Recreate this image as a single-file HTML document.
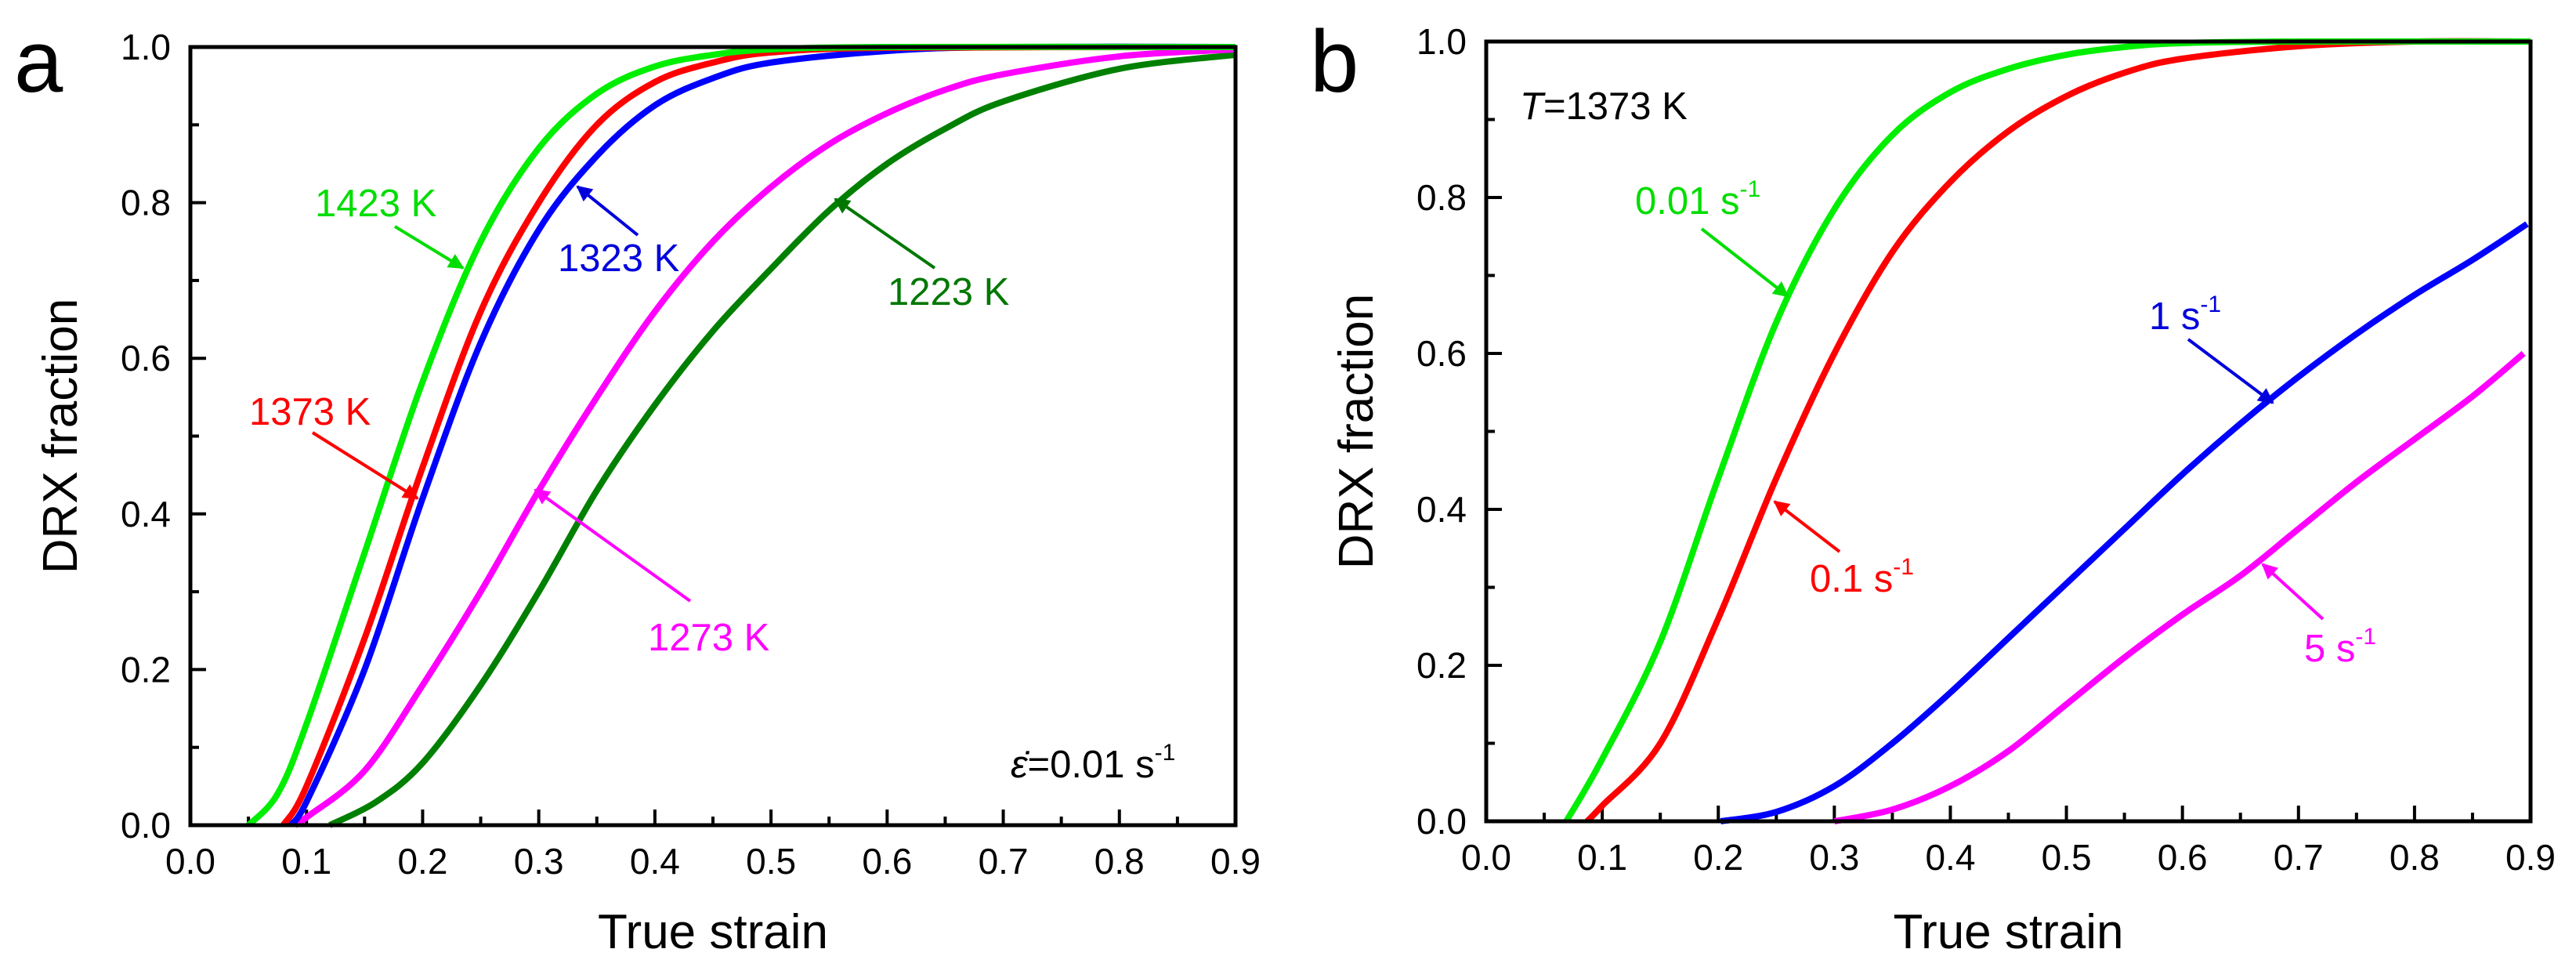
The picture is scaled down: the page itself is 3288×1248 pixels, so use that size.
<!DOCTYPE html>
<html><head><meta charset="utf-8"><style>
html,body{margin:0;padding:0;background:#fff}
svg{display:block;font-family:"Liberation Sans",Arial,sans-serif}
</style></head><body>
<svg id="fig" width="3288" height="1248" viewBox="0 0 3288 1248" xmlns="http://www.w3.org/2000/svg">
<defs>
<marker id="ah" viewBox="0 0 10 10" refX="9" refY="5" markerWidth="6" markerHeight="5" orient="auto" markerUnits="strokeWidth"><path d="M0,0 L10,5 L0,10 z" fill="context-stroke"/></marker>
</defs>
</svg>
<script>
// ---------- Panel a data (temperature series, strain rate 0.01 s^-1) ----------
const aX1423 = [0.05,0.075,0.1,0.15,0.2,0.25,0.3,0.35,0.4,0.45,0.5,0.6,0.9];
const aY1423 = [0,0.04,0.13,0.35,0.57,0.75,0.87,0.94,0.975,0.99,0.997,1,1];
const aX1373 = [0.08,0.1,0.15,0.2,0.25,0.3,0.35,0.4,0.45,0.5,0.6,0.9];
const aY1373 = [0,0.05,0.24,0.46,0.66,0.8,0.9,0.955,0.98,0.993,0.999,1];
const aX1323 = [0.085,0.1,0.15,0.2,0.25,0.3,0.35,0.4,0.45,0.5,0.6,0.7,0.9];
const aY1323 = [0,0.03,0.2,0.42,0.62,0.765,0.86,0.925,0.96,0.98,0.995,1,1];
const aX1273 = [0.09,0.1,0.15,0.2,0.25,0.3,0.35,0.4,0.45,0.5,0.55,0.6,0.65,0.7,0.8,0.9];
const aY1273 = [0,0.01,0.07,0.18,0.3,0.43,0.55,0.66,0.75,0.82,0.875,0.915,0.945,0.965,0.988,0.997];
const aX1223 = [0.12,0.16,0.2,0.25,0.3,0.35,0.4,0.45,0.5,0.55,0.6,0.65,0.7,0.8,0.9];
const aY1223 = [0,0.03,0.08,0.18,0.3,0.43,0.54,0.635,0.715,0.79,0.85,0.895,0.93,0.972,0.99];
// ---------- Panel b data (strain-rate series, T = 1373 K) ----------
const bX001 = [0.069,0.1,0.15,0.2,0.25,0.3,0.35,0.4,0.45,0.5,0.55,0.6,0.7,0.9];
const bY001 = [0,0.08,0.23,0.44,0.64,0.785,0.88,0.935,0.965,0.983,0.993,0.998,1,1];
const bX01 = [0.087,0.1,0.15,0.2,0.25,0.3,0.35,0.4,0.45,0.5,0.55,0.6,0.7,0.8,0.9];
const bY01 = [0,0.02,0.1,0.26,0.44,0.6,0.73,0.82,0.885,0.93,0.96,0.978,0.994,1,1];
const bX1 = [0.202,0.25,0.3,0.35,0.4,0.45,0.5,0.55,0.6,0.65,0.7,0.75,0.8,0.85,0.897];
const bY1 = [0,0.012,0.045,0.1,0.165,0.235,0.305,0.375,0.445,0.51,0.57,0.625,0.675,0.72,0.766];
const bX5 = [0.3,0.35,0.4,0.45,0.5,0.55,0.6,0.65,0.7,0.75,0.8,0.85,0.894];
const bY5 = [0,0.015,0.045,0.09,0.15,0.21,0.265,0.315,0.375,0.435,0.49,0.545,0.6];
// ticks
const xTicks = [0,0.1,0.2,0.3,0.4,0.5,0.6,0.7,0.8,0.9];
const xTickLabels = ["0.0","0.1","0.2","0.3","0.4","0.5","0.6","0.7","0.8","0.9"];
const yTicks = [0,0.2,0.4,0.6,0.8,1.0];
const yTickLabels = ["0.0","0.2","0.4","0.6","0.8","1.0"];

const NS="http://www.w3.org/2000/svg";
const svg=document.getElementById('fig');
function mk(tag,attrs,parent){const e=document.createElementNS(NS,tag);for(const k in attrs)e.setAttribute(k,attrs[k]);(parent||svg).appendChild(e);return e;}

function panel(id,L,R,T,B){
  const g=mk('g',{});
  
  
  const sx=v=>L+v/0.9*(R-L);
  const sy=v=>B-v*(B-T);
  return {g,sx,sy,L,R,T,B};
}
function axes(p){
  for(let i=0;i<=18;i++){
    const v=i*0.05, x=p.sx(v), major=i%2===0;
    const t=mk('line',{x1:x,x2:x,y1:p.B,y2:p.B-(major?20:11),stroke:'#000','stroke-width':4},p.g);
    
    
  }
  for(let i=0;i<=10;i++){
    const v=i*0.1, y=p.sy(v), major=i%2===0;
    const t=mk('line',{x1:p.L,x2:p.L+(major?20:11),y1:y,y2:y,stroke:'#000','stroke-width':4},p.g);
    
    
  }
  xTicks.forEach((v,i)=>{
    const t=mk('text',{x:p.sx(v),y:p.B+62,'font-size':46,'text-anchor':'middle',fill:'#000'},p.g);
    t.textContent=xTickLabels[i];
    
    
  });
  yTicks.forEach((v,i)=>{
    const t=mk('text',{x:p.L-25,y:p.sy(v)+16,'font-size':46,'text-anchor':'end',fill:'#000'},p.g);
    t.textContent=yTickLabels[i];
    
    
  });
  const xt=mk('text',{x:(p.L+p.R)/2,y:1210,'font-size':62,'text-anchor':'middle',fill:'#000'},p.g);
  xt.textContent='True strain';
  
  
  const yx=p.L-145, yy=(p.T+p.B)/2;
  const yt=mk('text',{x:yx,y:yy,'font-size':62,'text-anchor':'middle',fill:'#000',transform:`rotate(-90 ${yx} ${yy})`},p.g);
  yt.textContent='DRX fraction';
  
  
}
function frame(p){
  const f=mk('rect',{x:p.L,y:p.T,width:p.R-p.L,height:p.B-p.T,fill:'none',stroke:'#000','stroke-width':5},p.g);
  
  
}
function curve(p,xs,ys,color,name){
  let pts=xs.map((x,i)=>[p.sx(x),p.sy(ys[i])]);
  let d='M'+pts[0][0]+','+pts[0][1];
  for(let i=0;i<pts.length-1;i++){
    const p0=pts[Math.max(0,i-1)],p1=pts[i],p2=pts[i+1],p3=pts[Math.min(pts.length-1,i+2)];
    const c1=[p1[0]+(p2[0]-p0[0])/6,p1[1]+(p2[1]-p0[1])/6];
    const c2=[p2[0]-(p3[0]-p1[0])/6,p2[1]-(p3[1]-p1[1])/6];
    d+=` C${c1[0]},${c1[1]} ${c2[0]},${c2[1]} ${p2[0]},${p2[1]}`;
  }
  const c=mk('path',{d,fill:'none',stroke:color,'stroke-width':8,'stroke-linejoin':'round'},p.g);
  
  
}
function arrow(g,x1,y1,x2,y2,color,name){
  const a=mk('line',{x1,y1,x2,y2,stroke:color,'stroke-width':4,'marker-end':'url(#ah)'},g);
  
  
}
function label(g,x,y,txt,color,name,sup){
  const t=mk('text',{x,y,'font-size':49,fill:color},g);
  t.textContent=txt;
  if(sup){const s=mk('tspan',{'font-size':30,dy:-22},t);s.textContent=sup;}
  
  
  return t;
}

// Panel a
const pa=panel('panel-a',243,1577,60,1053);
axes(pa);
curve(pa,aX1223,aY1223,'#008000','curve-1223k');
curve(pa,aX1273,aY1273,'#ff00ff','curve-1273k');
curve(pa,aX1323,aY1323,'#0000ff','curve-1323k');
curve(pa,aX1373,aY1373,'#ff0000','curve-1373k');
curve(pa,aX1423,aY1423,'#00ee00','curve-1423k');
frame(pa);
label(pa.g,402,276,'1423 K','#00dd00','label-1423k');
arrow(pa.g,504,289,591,342,'#00dd00','arrow-1423k');
label(pa.g,712,346,'1323 K','#0000dd','label-1323k');
arrow(pa.g,814,300,737,238,'#0000dd','arrow-1323k');
label(pa.g,1133,389,'1223 K','#007700','label-1223k');
arrow(pa.g,1193,342,1066,254,'#007700','arrow-1223k');
label(pa.g,318,542,'1373 K','#ff0000','label-1373k');
arrow(pa.g,399,552,533,636,'#ff0000','arrow-1373k');
label(pa.g,827,830,'1273 K','#ff00ff','label-1273k');
arrow(pa.g,881,767,683,625,'#ff00ff','arrow-1273k');
const er=mk('text',{x:1290,y:992,'font-size':49,fill:'#000'},pa.g);
er.innerHTML='<tspan font-style="italic">ε̇</tspan>=0.01 s<tspan font-size="30" dy="-22">-1</tspan>';


const la=mk('text',{x:18,y:117,'font-size':112,fill:'#000'});
la.textContent='a';



// Panel b
const pb=panel('panel-b',1897,3230,53,1048);
axes(pb);
curve(pb,bX5,bY5,'#ff00ff','curve-5s');
curve(pb,bX1,bY1,'#0000ff','curve-1s');
curve(pb,bX01,bY01,'#ff0000','curve-0.1s');
curve(pb,bX001,bY001,'#00ee00','curve-0.01s');
frame(pb);
const tl=mk('text',{x:1940,y:152,'font-size':49,fill:'#000'},pb.g);
tl.innerHTML='<tspan font-style="italic">T</tspan>=1373 K';


label(pb.g,2087,273,'0.01 s','#00dd00','label-0.01s','-1');
arrow(pb.g,2172,292,2282,378,'#00dd00','arrow-0.01s');
label(pb.g,2743,420,'1 s','#0000dd','label-1s','-1');
arrow(pb.g,2793,433,2901,514,'#0000dd','arrow-1s');
label(pb.g,2310,755,'0.1 s','#ff0000','label-0.1s','-1');
arrow(pb.g,2348,704,2265,640,'#ff0000','arrow-0.1s');
label(pb.g,2941,844,'5 s','#ff00ff','label-5s','-1');
arrow(pb.g,2965,790,2888,720,'#ff00ff','arrow-5s');
const lb=mk('text',{x:1672,y:117,'font-size':112,fill:'#000'});
lb.textContent='b';


</script>
</body></html>
